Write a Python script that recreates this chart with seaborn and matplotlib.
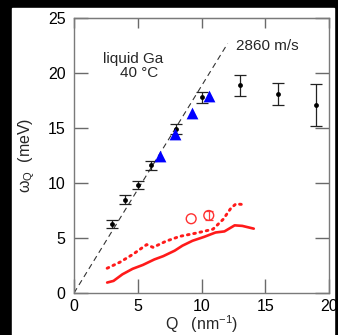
import matplotlib
matplotlib.use("Agg")
import matplotlib.pyplot as plt
import seaborn as sns
import pandas as pd
from matplotlib.patches import Rectangle

# ---- data ----
ixs_q = [3, 4, 5, 6, 8, 10, 13, 16, 19]
ixs_w = [6.3, 8.5, 9.8, 11.6, 14.9, 17.8, 18.9, 18.05, 17.1]
ixs_err = [0.35, 0.4, 0.35, 0.4, 0.45, 0.5, 0.95, 1.0, 1.9]

tri_q = [6.72, 7.94, 9.24, 10.6]
tri_w = [12.5, 14.5, 16.4, 17.9]

circ_q = [9.19, 10.57]
circ_w = [6.75, 7.05]
circ_err_q = [10.57]
circ_err_w = [7.05]
circ_err = [0.4]

solid_q = [2.6, 3.1, 3.8, 4.6, 5.4, 6.3, 7.0, 7.9, 8.5, 9.3, 10.2, 11.1, 11.8, 12.6, 13.2, 14.1]
solid_w = [0.95, 1.1, 1.7, 2.2, 2.55, 3.05, 3.35, 3.85, 4.3, 4.75, 5.1, 5.5, 5.6, 6.15, 6.1, 5.85]

dot_q = [2.6, 3.6, 4.6, 5.7, 6.2, 7.2, 8.3, 9.6, 10.9, 11.7, 12.3, 12.7, 13.2]
dot_w = [2.25, 2.8, 3.5, 4.4, 4.15, 4.7, 5.15, 5.45, 5.8, 6.7, 7.7, 8.1, 8.05]

dash_q = [0, 12.05]
dash_w = [0, 22.68]

x_ticks = [0, 5, 10, 15, 20]
y_ticks = [0, 5, 10, 15, 20, 25]

sns.set_style("ticks")
plt.rcParams['font.family'] = ['Liberation Sans', 'DejaVu Sans']
plt.rcParams['mathtext.fontset'] = 'custom'
plt.rcParams['mathtext.rm'] = 'Liberation Sans'
plt.rcParams['mathtext.it'] = 'Liberation Sans:italic'

W, H = 338, 335
fig = plt.figure(figsize=(W / 100, H / 100), dpi=100, facecolor='black')
bg = Rectangle((12 / W, 0), (334 - 12) / W, (H - 8) / H,
               transform=fig.transFigure, color='white', zorder=-10)
fig.patches.append(bg)
ax = fig.add_axes([74 / W, 1 - 293 / H, (329 - 74) / W, (293 - 18) / H])
ax.set_zorder(1)
ax.set_facecolor('white')

df_solid = pd.DataFrame({'Q': solid_q, 'w': solid_w})
df_dot = pd.DataFrame({'Q': dot_q, 'w': dot_w})
df_dash = pd.DataFrame({'Q': dash_q, 'w': dash_w})

sns.lineplot(data=df_dash, x='Q', y='w', ax=ax, color='#333333', lw=0.8,
             linestyle=(0, (5, 3.5)), sort=False)
sns.lineplot(data=df_solid, x='Q', y='w', ax=ax, color='#ff1a1a', lw=1.9, sort=False)
sns.lineplot(data=df_dot, x='Q', y='w', ax=ax, color='#ff1a1a', lw=2.1,
             linestyle=(0, (0.6, 1.6)), sort=False, dash_capstyle='round')

ax.errorbar(ixs_q, ixs_w, yerr=ixs_err, fmt='none', ecolor='#222222',
            elinewidth=0.9, capsize=4, capthick=0.9)
sns.scatterplot(x=ixs_q, y=ixs_w, ax=ax, color='black', s=12, marker='o',
                edgecolor='black', linewidth=0, zorder=5)

sns.scatterplot(x=tri_q, y=tri_w, ax=ax, color='#0000ff', marker='^', s=72,
                edgecolor='#0000ff', linewidth=0, zorder=6)

ax.errorbar(circ_err_q, circ_err_w, yerr=circ_err, fmt='none', ecolor='#ff4040',
            elinewidth=0.9, capsize=3, capthick=0.9)
sns.scatterplot(x=circ_q, y=circ_w, ax=ax, marker='o', s=50,
                facecolor='none', edgecolor='#ff3030', linewidth=1.0, zorder=6)

ax.set_xlim(0, 20)
ax.set_ylim(0, 25)
ax.set_xticks(x_ticks)
ax.set_yticks(y_ticks)
ax.set_xticklabels([str(v) for v in x_ticks])
ax.set_yticklabels([str(v) for v in y_ticks])

for s in ax.spines.values():
    s.set_visible(True)
    s.set_color('#7a7a7a')
    s.set_linewidth(1.0)

ax.tick_params(axis='both', direction='in', length=10, width=1.0, color='#6a6a6a',
               labelsize=11.5, labelcolor='black', right=True, top=False)
ax.tick_params(axis='x', pad=4)
ax.tick_params(axis='y', pad=6)

sec = ax.secondary_xaxis('top')
sec.set_xticks(x_ticks)
sec.tick_params(direction='in', length=7, width=1.0, color='#6a6a6a', labeltop=False)
sec.spines['top'].set_color('#7a7a7a')

ax.set_xlabel('Q   (nm$^{\\mathrm{-1}}$)', fontsize=11.5, labelpad=0)
ax.set_ylabel('ω$_{\\mathrm{Q}}$  (meV)', fontsize=11.5, labelpad=8)

ax.text(4.6, 21.3, 'liquid Ga', fontsize=11, ha='center', va='center')
ax.text(5.1, 20.0, '40 °C', fontsize=11, ha='center', va='center')
ax.text(12.7, 22.5, '2860 m/s', fontsize=11, ha='left', va='center')

fig.savefig('out.png', dpi=100, facecolor=fig.get_facecolor())
